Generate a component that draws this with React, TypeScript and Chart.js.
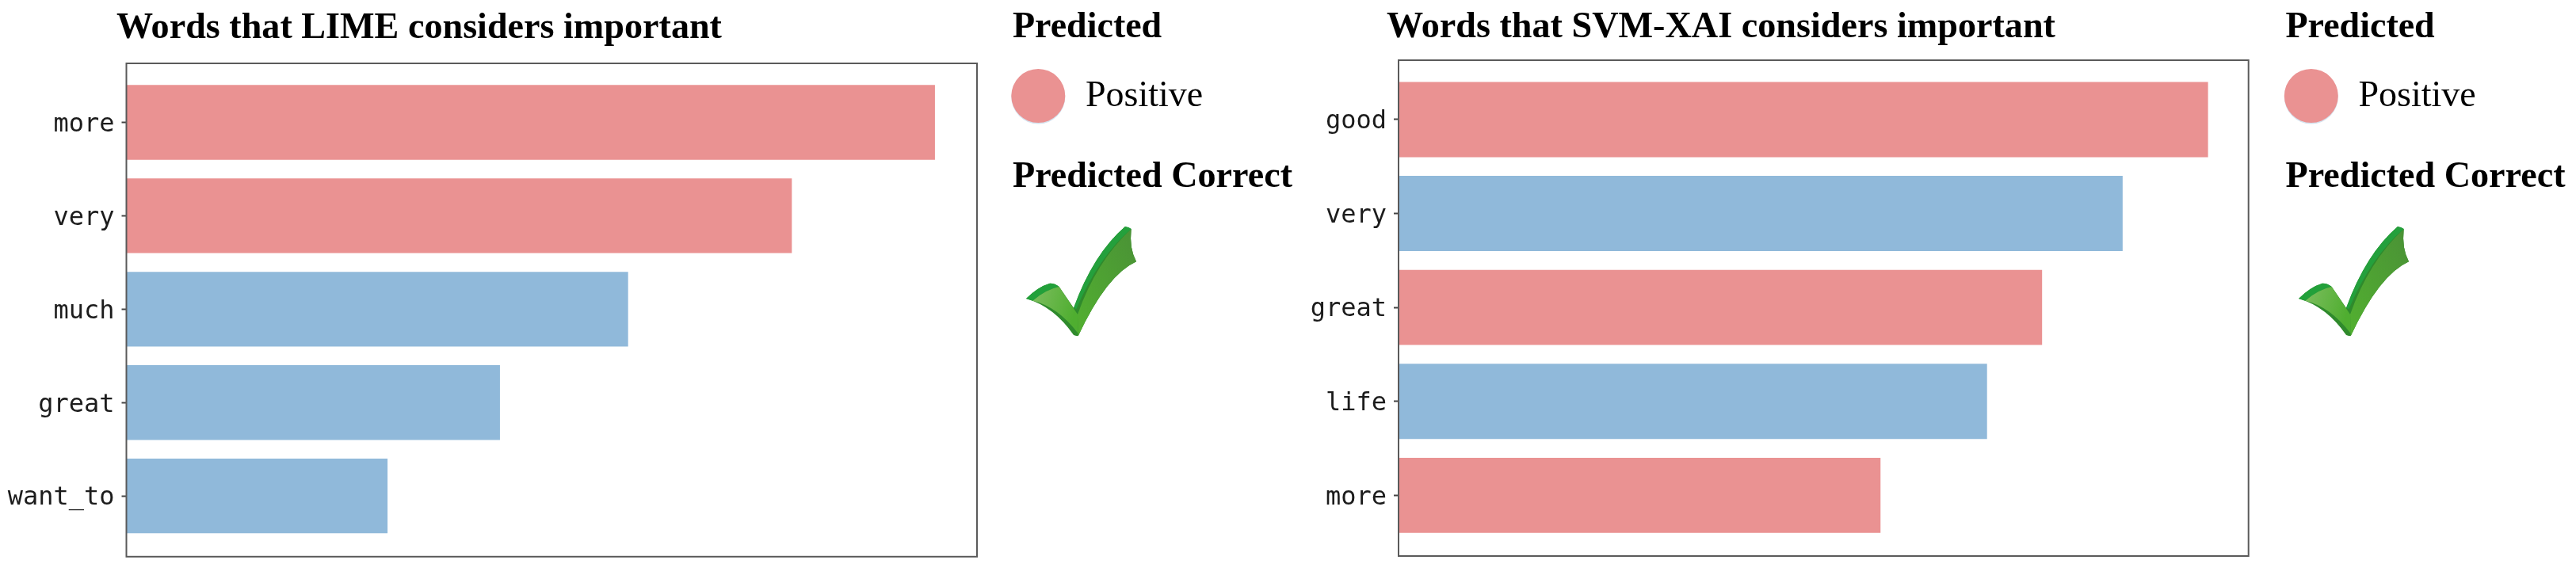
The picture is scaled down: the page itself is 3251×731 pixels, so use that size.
import React, { useEffect, useRef } from "react";
import { Chart, registerables } from "chart.js";

Chart.register(...registerables);

const limeWords = ["more", "very", "much", "great", "want_to"];
const limeValues = [1.0, 0.823, 0.6205, 0.462, 0.323];
const limeClasses = ["pos", "pos", "neg", "neg", "neg"];
const svmWords = ["good", "very", "great", "life", "more"];
const svmValues = [1.0, 0.8945, 0.795, 0.727, 0.5954];
const svmClasses = ["pos", "neg", "pos", "neg", "pos"];

const classColors: Record<string, string> = { pos: "#EA9292", neg: "#90B9DA" };
const SERIF = '"Liberation Serif", "Times New Roman", serif';
const W = 1620;
const H = 731;

const framePlugin = {
  id: "frame",
  afterDatasetsDraw(chart: any) {
    const { ctx, chartArea: a } = chart;
    ctx.save();
    ctx.strokeStyle = "#5a5a5a";
    ctx.lineWidth = 2;
    ctx.strokeRect(a.left, a.top, a.right - a.left, a.bottom - a.top);
    ctx.restore();
  },
};

function Panel(props: {
  words: string[]; values: number[]; classes: string[]; originX: number;
  left: number; right: number; top: number; bottom: number;
  xMax: number; yMin: number; yMax: number;
}) {
  const ref = useRef<HTMLCanvasElement>(null);
  useEffect(() => {
    const { words, values, classes, left, right, top, bottom, xMax, yMin, yMax } = props;
    const chart = new Chart(ref.current as HTMLCanvasElement, {
      type: "bar",
      data: {
        datasets: [{
          data: values.map((v, i) => ({ x: v, y: i })) as any,
          backgroundColor: classes.map((c) => classColors[c]),
          categoryPercentage: 0.8,
          barPercentage: 1,
          borderWidth: 0,
        }],
      },
      plugins: [framePlugin],
      options: {
        indexAxis: "y",
        animation: false,
        responsive: false,
        layout: { padding: { left: 0, top, right: W - right, bottom: H - bottom } },
        plugins: { legend: { display: false }, tooltip: { enabled: false }, title: { display: false } },
        scales: {
          x: { type: "linear", display: false, min: 0, max: xMax, offset: false },
          y: {
            type: "linear",
            reverse: true,
            offset: false,
            min: yMin,
            max: yMax,
            afterBuildTicks: (s: any) => { s.ticks = words.map((_, i) => ({ value: i })); },
            afterFit: (s: any) => { s.width = left; },
            border: { display: false },
            grid: { offset: false, drawOnChartArea: false, drawTicks: true, tickLength: 6, tickWidth: 2, tickColor: "#444" },
            ticks: {
              autoSkip: false,
              padding: 9,
              labelOffset: 3,
              color: "#1c1c1c",
              font: { family: '"DejaVu Sans Mono", monospace', size: 32 },
              callback: (v: any) => words[v as number] ?? "",
            },
          },
        },
      },
    } as any);
    return () => chart.destroy();
  }, []);
  return (
    <canvas ref={ref} width={W} height={H}
      style={{ position: "absolute", left: props.originX, top: 0, width: W, height: H, display: "block" }} />
  );
}

function Check({ x, y, w }: { x: number; y: number; w: number }) {
  const id = `c${x}`;
  return (
    <svg x={x} y={y} width={w} height={w * 416 / 417} viewBox="195 857 417 416">
      <defs>
        <linearGradient id={`${id}a`} x1="0" y1="0" x2="1" y2="0.3">
          <stop offset="0" stopColor="#7dbd5f" /><stop offset="1" stopColor="#4fae30" />
        </linearGradient>
        <linearGradient id={`${id}b`} x1="0" y1="1" x2="1" y2="0">
          <stop offset="0" stopColor="#52b030" /><stop offset="1" stopColor="#4a9136" />
        </linearGradient>
      </defs>
      <path d="M195 1130 Q240 1085 285 1072 Q305 1072 320 1085 L375 1165 Q450 960 570 857 L593 866 Q585 940 612 990 Q500 1040 392 1272 Q385 1272 375 1268 Q300 1160 195 1130Z" fill="#2f8a2c" />
      <path d="M195 1130 Q240 1085 285 1072 Q305 1072 320 1085 Q270 1095 220 1138Z" fill="#22a03a" />
      <path d="M220 1138 Q270 1095 320 1085 L390 1190 L392 1262 Q315 1160 220 1138Z" fill={`url(#${id}a)`} />
      <path d="M390 1190 Q460 990 593 866 Q585 940 612 990 Q500 1040 392 1272Z" fill={`url(#${id}b)`} />
      <path d="M375 1165 Q450 960 570 857 Q585 858 593 866 Q470 970 385 1170Z" fill="#24a03c" />
    </svg>
  );
}

function Legend({ x, circleX, circleR, posX, checkX }: { x: number; circleX: number; circleR: number; posX: number; checkX: number }) {
  return (
    <g fontFamily={SERIF} fill="#000">
      <text x={x} y={47} fontSize={46} fontWeight="bold">Predicted</text>
      <circle cx={circleX} cy={122.5} r={circleR} fill="#d5e3ef" />
      <circle cx={circleX} cy={121} r={circleR} fill={classColors.pos} />
      <text x={posX} y={134} fontSize={46}>Positive</text>
      <text x={x} y={236} fontSize={46} fontWeight="bold" textLength={353} lengthAdjust="spacingAndGlyphs">Predicted Correct</text>
      <Check x={checkX} y={286} w={139} />
    </g>
  );
}

export default function App() {
  return (
    <div style={{ position: "absolute", left: 0, top: 0, width: 3251, height: 731, overflow: "hidden", background: "#fff" }}>
      <Panel words={limeWords} values={limeValues} classes={limeClasses} originX={0}
        left={159.5} right={1233} top={80} bottom={707} xMax={1.052} yMin={-0.632} yMax={4.65} />
      <Panel words={svmWords} values={svmValues} classes={svmClasses} originX={1620}
        left={145} right={1217.7} top={76} bottom={702} xMax={1.05} yMin={-0.632} yMax={4.646} />
      <svg width={3251} height={731} style={{ position: "absolute", left: 0, top: 0, pointerEvents: "none" }}>
        <g fontFamily={SERIF} fontWeight="bold" fontSize={46} fill="#000">
          <text x={147} y={48} textLength={764} lengthAdjust="spacingAndGlyphs">Words that LIME considers important</text>
          <text x={1750} y={47} textLength={844} lengthAdjust="spacingAndGlyphs">Words that SVM-XAI considers important</text>
        </g>
        <Legend x={1278} circleX={1310.3} circleR={34} posX={1370} checkX={1295} />
        <Legend x={2884.5} circleX={2916.8} circleR={34} posX={2976.5} checkX={2901} />
      </svg>
    </div>
  );
}
